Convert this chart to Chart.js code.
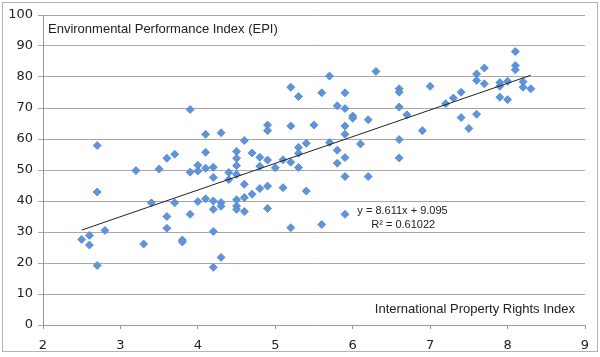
<!DOCTYPE html>
<html><head><meta charset="utf-8">
<script src="https://cdn.jsdelivr.net/npm/chart.js@4.4.1/dist/chart.umd.min.js"></script>
<style>html,body{margin:0;padding:0;background:#fff}#w{width:600px;height:357px}</style>
</head><body><div id="w"><canvas id="c"></canvas></div>
<script>
const propertyRights = [2.5,2.6,2.6,2.7,2.7,2.7,2.8,3.2,3.3,3.4,3.5,3.6,3.6,3.6,3.7,3.7,3.8,3.8,3.9,3.9,3.9,
4.0,4.0,4.0,4.1,4.1,4.1,4.1,4.2,4.2,4.2,4.2,4.2,4.2,4.3,4.3,4.3,4.3,4.4,4.4,4.5,4.5,4.5,4.5,4.5,4.5,4.5,
4.6,4.6,4.6,4.6,4.7,4.7,4.8,4.8,4.8,4.9,4.9,4.9,4.9,4.9,5.0,5.1,5.1,5.2,5.2,5.2,5.2,5.3,5.3,5.3,5.3,5.4,5.4,
5.5,5.6,5.6,5.7,5.7,5.8,5.8,5.8,5.9,5.9,5.9,5.9,5.9,5.9,5.9,6.0,6.0,6.1,6.2,6.2,6.3,6.6,6.6,6.6,6.6,6.6,
6.7,6.9,7.0,7.2,7.3,7.4,7.4,7.5,7.6,7.6,7.6,7.7,7.7,7.9,7.9,7.9,8.0,8.0,8.1,8.1,8.1,8.2,8.2,8.3];
const epi = [27.6,28.9,25.8,42.9,19.2,57.9,30.5,49.8,26.1,39.4,50.3,53.8,35.0,31.2,55.1,39.4,27.4,26.8,69.5,49.3,35.7,
51.5,49.7,39.8,61.5,55.7,50.6,40.7,50.9,47.6,40.0,37.3,30.2,18.6,62.0,39.5,38.3,21.8,49.2,46.9,56.0,53.8,51.4,48.6,40.4,38.4,37.3,
59.5,45.4,41.1,36.6,55.5,42.2,54.1,51.2,44.0,64.5,62.7,53.2,44.8,37.6,50.7,53.3,44.3,76.7,64.2,52.5,31.4,73.7,57.3,55.4,50.8,58.6,43.2,
64.5,74.9,32.4,80.3,58.9,70.7,56.4,52.2,74.9,69.8,64.2,61.5,54.0,47.9,35.7,67.4,66.7,58.4,66.2,47.9,81.8,76.2,75.1,70.3,59.8,53.9,
67.8,62.7,77.0,71.4,73.2,75.1,66.9,63.4,81.0,78.9,68.0,82.9,77.8,78.2,77.0,73.5,78.6,72.7,88.2,83.7,82.3,78.5,76.7,76.2];
const trendSlope = 8.611, trendIntercept = 9.095;
const trendRange = [2.5, 8.3];
const xTicks = [2,3,4,5,6,7,8,9];
const yTitle = 'Environmental Performance Index (EPI)';
const xTitle = 'International Property Rights Index';
const eqText = 'y = 8.611x + 9.095';
const r2Text = 'R² = 0.61022';

const points = propertyRights.map((x,i)=>({x, y: epi[i]}));
const trend = trendRange.map(x=>({x, y: trendSlope*x + trendIntercept}));

const deco = {
  id:'deco',
  beforeDraw(chart){
    const ctx = chart.ctx;
    ctx.save();
    ctx.fillStyle='#fff';
    ctx.fillRect(0,0,chart.width,chart.height);
    ctx.restore();
  },
  afterDraw(chart){
    const ctx = chart.ctx, a = chart.chartArea;
    const xs = chart.scales.x, ys = chart.scales.y;
    ctx.save();
    ctx.strokeStyle='#b4b4b4'; ctx.lineWidth=1;
    ctx.strokeRect(2.5,2.5,595,349);
    ctx.fillStyle='#222';
    ctx.font='13px "Liberation Sans", Arial, sans-serif';
    ctx.textBaseline='middle';
    ctx.textAlign='left';
    ctx.fillText(yTitle, a.left+5, ys.getPixelForValue(95.3));
    ctx.textAlign='right';
    ctx.fillText(xTitle, a.right-10, ys.getPixelForValue(5.0));
    ctx.font='11px "Liberation Sans", Arial, sans-serif';
    ctx.textAlign='left';
    ctx.fillText(eqText, xs.getPixelForValue(6.06), ys.getPixelForValue(36.8));
    ctx.fillText(r2Text, xs.getPixelForValue(6.24), ys.getPixelForValue(32.2));
    ctx.restore();
  }
};

new Chart(document.getElementById('c'), {
  type:'scatter',
  data:{datasets:[
    {data: trend, type:'line', showLine:true, borderColor:'#222', borderWidth:1, pointRadius:0, fill:false, order:0},
    {data: points, pointStyle:'rectRot', pointRadius:4, pointBackgroundColor:'#5f93db', pointBorderColor:'#4f85cf', pointBorderWidth:0.8, order:1}
  ]},
  options:{
    responsive:true, maintainAspectRatio:false, animation:false,
    layout:{padding:{top:15,right:15,left:0,bottom:0}},
    plugins:{legend:{display:false}, tooltip:{enabled:false}},
    scales:{
      x:{type:'linear', min:2, max:9,
        afterBuildTicks(s){ s.ticks = xTicks.map(v=>({value:v})); },
        afterFit(s){ s.height = 32; },
        grid:{drawOnChartArea:false, drawTicks:true, tickLength:4, color:'#999'},
        border:{display:true, color:'#999'},
        ticks:{padding:9, color:'#222', font:{family:'"DejaVu Sans", sans-serif', size:13}, maxRotation:0}
      },
      y:{type:'linear', min:0, max:100,
        ticks:{stepSize:10, padding:5, color:'#222', font:{family:'"DejaVu Sans", sans-serif', size:13}},
        afterFit(s){ s.width = 43; },
        grid:{color:'#a8a8a8', tickLength:5, lineWidth:1},
        border:{display:true, color:'#999'}
      }
    }
  },
  plugins:[deco]
});
</script></body></html>
